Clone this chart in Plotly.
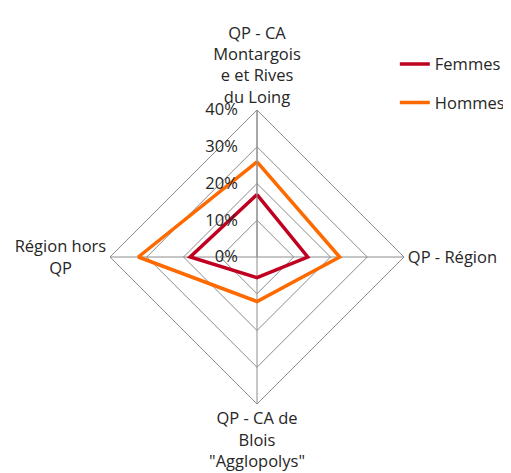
import plotly.graph_objects as go

NB = "\u00a0"
categories = [
    "QP - CA<br>Montargois<br>e et Rives<br>du Loing",
    "QP - Région",
    "QP - CA de<br>Blois<br>\"Agglopolys\"",
    "Région hors<br>QP" + NB * 8,
]
femmes = [17.0, 13.8, 5.6, 18.2]
hommes = [25.9, 22.5, 12.1, 32.3]
radial_ticks = [0, 10, 20, 30, 40]

GRID = "#8c8c8c"
TEXT = "#262626"

fig = go.Figure()
for name, vals, color in [("Femmes", femmes, "#C00020"), ("Hommes", hommes, "#FF6A00")]:
    fig.add_trace(go.Scatterpolar(
        r=vals + vals[:1],
        theta=categories + categories[:1],
        mode="lines",
        name=name,
        legendgroup=name,
        line=dict(color=color, width=3.5),
    ))

fig.update_layout(
    width=511,
    height=473,
    margin=dict(l=0, r=0, t=0, b=0, autoexpand=False),
    paper_bgcolor="white",
    font=dict(family="Open Sans", size=16.5, color=TEXT),
    polar=dict(
        domain=dict(x=[0.1996, 0.7750], y=[0.1628, 0.7843]),
        gridshape="linear",
        bgcolor="white",
        radialaxis=dict(
            range=[0, 40],
            tickvals=radial_ticks,
            ticktext=[f"{v}%{NB * 3}" for v in radial_ticks],
            angle=90,
            tickangle=90,
            side="counterclockwise",
            showline=True,
            linecolor=GRID,
            gridcolor=GRID,
            gridwidth=1,
            ticks="",
        ),
        angularaxis=dict(
            rotation=90,
            direction="clockwise",
            linecolor=GRID,
            gridcolor=GRID,
            showline=True,
            ticks="",
        ),
    ),
    legend=dict(
        x=0.757, y=0.918, xanchor="left", yanchor="top",
        font=dict(size=16.5),
        traceorder="grouped",
        tracegroupgap=14,
        itemwidth=30,
    ),
)

fig.write_html("out.html")
